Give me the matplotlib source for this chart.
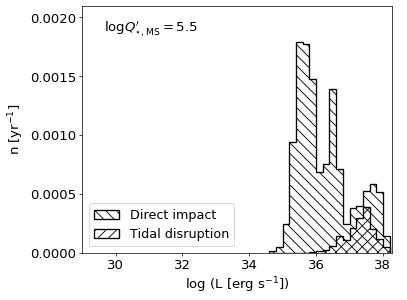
import numpy as np
import matplotlib
matplotlib.use('Agg')
import matplotlib.pyplot as plt

# bin edges in log L
edges = [34.6, 34.8, 35.0, 35.2, 35.4, 35.6, 35.8, 36.0, 36.2, 36.4,
         36.6, 36.8, 37.0, 37.2, 37.4, 37.6, 37.8, 38.0, 38.2]

# rates in yr^-1 (x 1e-3)
direct_impact = [0.017, 0.043, 0.245, 0.94, 1.79, 1.77, 1.478, 0.687, 0.753,
                 1.389, 0.71, 0.244, 0.38, 0.40, 0.524, 0.585, 0.515, 0.145]
tidal_disruption = [0.0, 0.0, 0.0, 0.0, 0.0, 0.0, 0.005, 0.012, 0.023,
                    0.055, 0.145, 0.11, 0.21, 0.295, 0.39, 0.2, 0.115, 0.05]

edges = np.array(edges)
centers = 0.5 * (edges[1:] + edges[:-1])
di = np.array(direct_impact) * 1e-3
td = np.array(tidal_disruption) * 1e-3

dpi = 63.6
fig = plt.figure(figsize=(407 / dpi, 300.3 / dpi), dpi=dpi)
ax = fig.add_axes([0.202, 0.158, 0.761, 0.822])

ax.hist(centers, bins=edges, weights=di, histtype='step', color='k',
        lw=1.5, hatch='\\\\', label='Direct impact')
ax.hist(centers, bins=edges, weights=td, histtype='step', color='k',
        lw=1.5, hatch='//', label='Tidal disruption')

ax.set_xlim(29, 38.27)
ax.set_ylim(0, 0.0021)
ax.set_xticks([30, 32, 34, 36, 38])
ax.set_yticks([0, 0.0005, 0.001, 0.0015, 0.002])
ax.tick_params(labelsize=15)
ax.set_xlabel(r'log (L [erg s$^{-1}$])', fontsize=15)
ax.set_ylabel(r'n [yr$^{-1}$]', fontsize=15)

ax.text(0.07, 0.905, r'$\mathrm{log}Q^{\prime}_{\star,\mathrm{MS}} = 5.5$',
        transform=ax.transAxes, fontsize=15, va='center')

ax.legend(loc='lower left', fontsize=14.5)

fig.savefig('out.png', dpi=dpi)
